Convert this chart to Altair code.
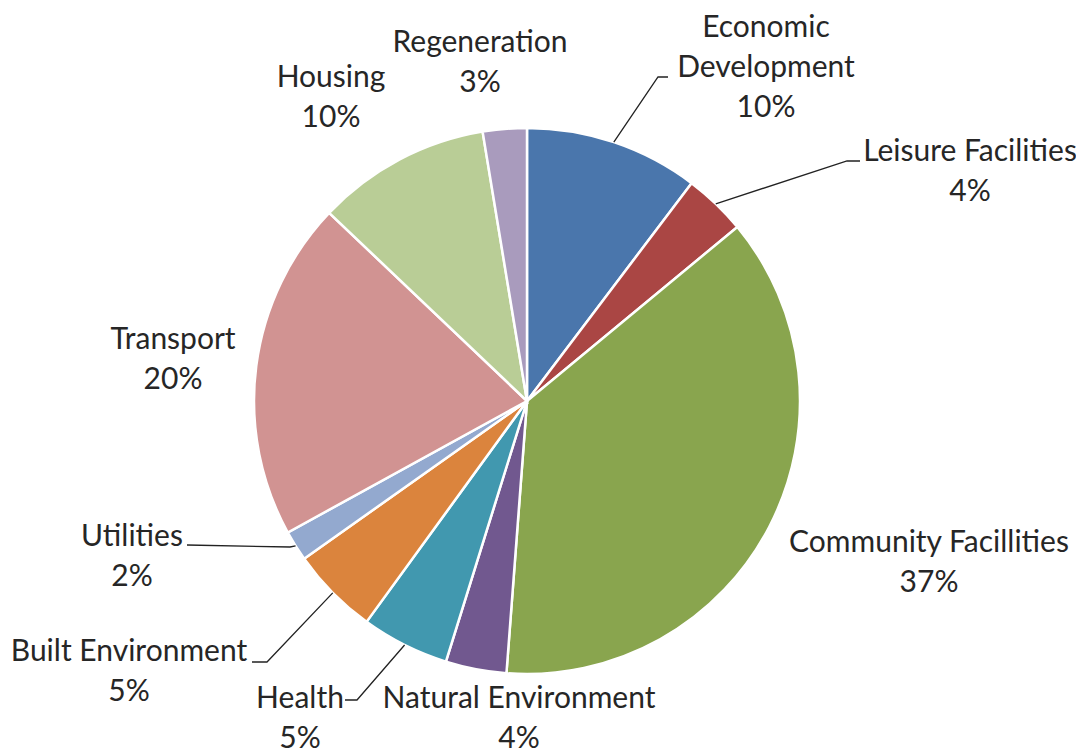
import math
import altair as alt
import pandas as pd

# ---------------- data ----------------
CATEGORIES = ["Economic Development", "Leisure Facilities", "Community Facillities",
              "Natural Environment", "Health", "Built Environment", "Utilities",
              "Transport", "Housing", "Regeneration"]
LABEL_NAMES = ["Economic\nDevelopment", "Leisure Facilities", "Community Facillities",
               "Natural Environment", "Health", "Built Environment", "Utilities",
               "Transport", "Housing", "Regeneration"]
VALUES = [10.3, 3.7, 37.2, 3.6, 5.2, 5.2, 1.8, 20.1, 10.3, 2.6]
COLORS = ["#4A76AC", "#AA4644", "#89A54E", "#71588F", "#4198AF",
          "#DB843D", "#93A9CF", "#D19392", "#B9CD96", "#A99BBD"]

# ---------------- layout (page pixels) ----------------
M = 8
PIE_CX, PIE_CY, R = 527, 401, 273
LABEL_FIRST_LINE = {
    "Economic Development": (766, 28),
    "Leisure Facilities": (970, 152),
    "Community Facillities": (929, 543),
    "Natural Environment": (519, 699),
    "Health": (300, 699),
    "Built Environment": (129, 652),
    "Utilities": (132, 537),
    "Transport": (173, 340),
    "Housing": (331, 78),
    "Regeneration": (480, 43),
}
LEADERS = {  # elbow, end
    "Economic Development": [(658, 77), (668, 77)],
    "Leisure Facilities": [(847, 161), (860, 161)],
    "Utilities": [(290, 547), (187, 545)],
    "Built Environment": [(267, 662), (252, 662)],
    "Health": [(357, 700), (345, 700)],
}

CX, CY = PIE_CX - M, PIE_CY - M
total = sum(VALUES)

pie_df = pd.DataFrame({"cat": CATEGORIES, "value": VALUES, "order": list(range(len(VALUES)))})

# label text
lab_rows = []
for name, lab, v in zip(CATEGORIES, LABEL_NAMES, VALUES):
    px, py = LABEL_FIRST_LINE[name]
    lab_rows.append({"cat": name, "label": f"{lab}\n{round(v / total * 100):d}%",
                     "x": px - M, "y": py - M})
lab_df = pd.DataFrame(lab_rows)

# leader lines from slice mid-angle on the rim
lead_rows = []
cum = 0.0
for name, v in zip(CATEGORIES, VALUES):
    mid = (cum + v / 2) / total * 2 * math.pi
    cum += v
    if name in LEADERS:
        sx = CX + R * math.sin(mid)
        sy = CY - R * math.cos(mid)
        lead_rows.append({"cat": name, "i": 0, "x": sx, "y": sy})
        for k, (ex, ey) in enumerate(LEADERS[name]):
            lead_rows.append({"cat": name, "i": k + 1, "x": ex - M, "y": ey - M})
lead_df = pd.DataFrame(lead_rows)

arcs = alt.Chart(pie_df).mark_arc(outerRadius=R, stroke="white", strokeWidth=2.5).encode(
    theta=alt.Theta("value:Q", stack=True),
    color=alt.Color("cat:N", scale=alt.Scale(domain=CATEGORIES, range=COLORS), legend=None),
    order=alt.Order("order:Q"),
    x=alt.value(CX),
    y=alt.value(CY),
)

leaders = alt.Chart(lead_df).mark_line(color="#222222", strokeWidth=1.3).encode(
    x=alt.X("x:Q", scale=None, axis=None),
    y=alt.Y("y:Q", scale=None, axis=None),
    detail="cat:N",
    order="i:Q",
)

texts = alt.Chart(lab_df).mark_text(
    font="Lato", fontSize=30, lineBreak="\n", lineHeight=40,
    align="center", baseline="middle", color="#262626",
).encode(
    x=alt.X("x:Q", scale=None, axis=None),
    y=alt.Y("y:Q", scale=None, axis=None),
    text="label:N",
)

chart = alt.layer(arcs, leaders, texts).properties(
    width=1068, height=745, autosize="none", padding=0, background="white"
).configure_view(stroke=None)

chart.save("out.html", embed_options={"renderer": "svg", "actions": False})
